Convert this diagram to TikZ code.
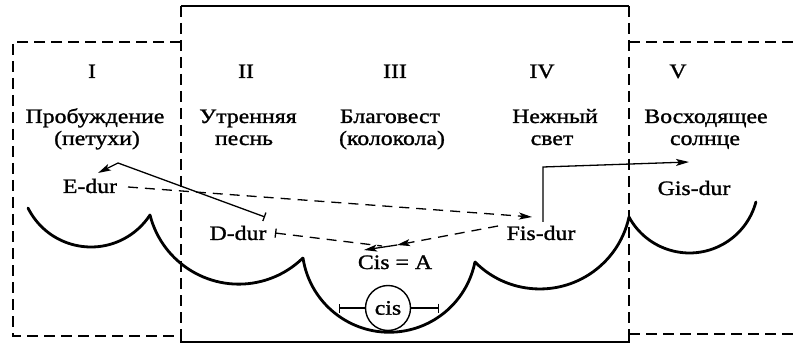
\documentclass[tikz,border=0pt]{standalone}
\usepackage{fontspec}
\setmainfont{Liberation Serif}[FakeStretch=1.16,FakeBold=1.2]
\usetikzlibrary{arrows.meta}
\begin{document}
\begin{tikzpicture}[x=1pt,y=-1pt,
  curve/.style={line width=2.8pt, line cap=round},
  frame/.style={line width=1.9pt},
  dframe/.style={line width=1.9pt, dash pattern=on 11pt off 6pt},
  conn/.style={line width=1.3pt},
  dconn/.style={line width=1.3pt, dash pattern=on 10pt off 7pt},
  tip/.style={-{Stealth[length=13pt,width=7pt,inset=3pt]}},
  lbl/.style={font=\fontsize{20.5}{24}\selectfont, inner sep=0pt, anchor=base},
]
\useasboundingbox (0,0) rectangle (794,347);

% frames
\draw[frame] (181,6) -- (629,6);
\draw[frame] (181,336) -- (181,342) -- (629,342) -- (629,334);
\draw[dframe] (181,6) -- (181,336);
\draw[dframe] (629,6) -- (629,334);
\draw[dframe] (181,42) -- (13,42) -- (13,336) -- (181,336);
\draw[dframe] (629,42) -- (794,42);
\draw[dframe] (629,334) -- (794,334);

% scalloped line
\draw[curve] (28,208) arc[start angle=153.5, end angle=33.1, radius=70.4];
\draw[curve] (150,215) arc[start angle=165.8, end angle=45.7, radius=91.6];
\draw[curve] (303,258) arc[start angle=171.4, end angle=11.2, radius=87.3];
\draw[curve] (475,262) arc[start angle=135.2, end angle=12.2, radius=91.3];
\draw[curve] (629,217) arc[start angle=151.5, end angle=15, radius=68.8];

% numerals
\node[lbl] (n1) at (92,78) {I};
\node[lbl] (n2) at (246,78) {II};
\node[lbl] (n3) at (395,78) {III};
\node[lbl] (n4) at (542,78) {IV};
\node[lbl] (n5) at (678,78) {V};

% titles
\node[lbl] (t1a) at (95,123) {Пробуждение};
\node[lbl] (t1b) at (97,145) {(петухи)};
\node[lbl] (t2a) at (248,123) {Утренняя};
\node[lbl] (t2b) at (244,145) {песнь};
\node[lbl] (t3a) at (390,123) {Благовест};
\node[lbl] (t3b) at (392,145) {(колокола)};
\node[lbl] (t4a) at (555,123) {Нежный};
\node[lbl] (t4b) at (552,145) {свет};
\node[lbl] (t5a) at (706,123) {Восходящее};
\node[lbl] (t5b) at (705,145) {солнце};

% keys
\node[lbl] (edur) at (90,193) {E-dur};
\node[lbl] (ddur) at (238,240) {D-dur};
\node[lbl] (fisdur) at (541,240) {Fis-dur};
\node[lbl] (gisdur) at (694,195) {Gis-dur};
\node[lbl] (cisA) at (395,269) {Cis = A};
\node[draw, circle, line width=1.4pt, minimum size=45pt, inner sep=0pt,
      font=\fontsize{20.5}{24}\selectfont] (cis) at (388,308) {cis};

% connectors
\coordinate (dtee) at (265,217);
\coordinate (ebend) at (118,163);
\coordinate (etip) at (98,173);
\draw[conn, {Bar[width=9pt]}-{Stealth[length=13pt,width=7pt,inset=3pt]}] (dtee) -- (ebend) -- (etip);

\coordinate (eout) at (128,187);
\coordinate (fin) at (532,217);
\draw[dconn, tip] (eout) -- (fin);

\coordinate (dout) at (275,233);
\coordinate (dend) at (382,246);
\draw[dconn, {Bar[width=9pt]}-] (dout) -- (dend);

\coordinate (fout) at (498,226);
\coordinate (cmid) at (397,245);
\coordinate (ctip) at (364,250);
\draw[dconn, tip] (fout) -- (cmid);
\draw[conn, tip] (cmid) -- (ctip);

\coordinate (fup) at (543,222);
\coordinate (fcorner) at (543,167);
\coordinate (gtip) at (689,162);
\draw[conn, tip] (fup) -- (fcorner) -- (gtip);

\coordinate (barL) at (339,308);
\coordinate (barR) at (439,308);
\draw[conn, -{Bar[width=9pt]}] (cis) -- (barL);
\draw[conn, -{Bar[width=9pt]}] (cis) -- (barR);
\end{tikzpicture}
\end{document}
